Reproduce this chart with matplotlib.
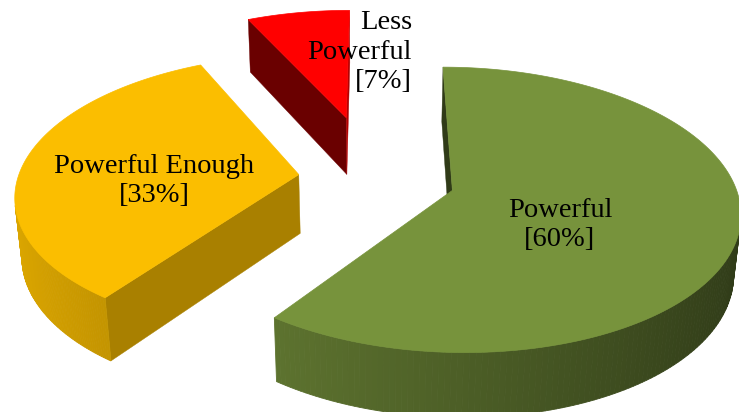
import numpy as np
import matplotlib
matplotlib.use("Agg")
import matplotlib.pyplot as plt
from matplotlib.patches import Polygon
from matplotlib.colors import to_rgb

# ---- data ----
categories = ["Powerful", "Powerful Enough", "Less Powerful"]
display_names = ["Powerful", "Powerful Enough", "Less\nPowerful"]
values = [60, 33, 7]

# ---- style ----
colors = ["#77933C", "#FBBE00", "#FF0000"]
explode = [0.29, 0.27, 0.48]
label_pos = [(560, 225), (154, 181), (412, 52)]
label_ha = ["center", "center", "right"]

W, H_PX = 739, 412
ELEV = np.radians(31.0)
DIST = 6.5
FOC = 1790.0
DEPTH = 0.245
CX, CY = 374.0, 237.0
CAM = np.array([0.0, -DIST * np.cos(ELEV), DIST * np.sin(ELEV)])


def proj(X, Y, Z):
    X = np.asarray(X, float); Y = np.asarray(Y, float); Z = np.asarray(Z, float)
    w = DIST + Y * np.cos(ELEV) - Z * np.sin(ELEV)
    u = CX + FOC * X / w
    v = CY - FOC * (Y * np.sin(ELEV) + Z * np.cos(ELEV)) / w
    return np.column_stack([np.atleast_1d(u), np.atleast_1d(v)])


def shade(color, f):
    r, g, b = to_rgb(color)
    f = max(0.0, min(1.0, f))
    return (r * f, g * f, b * f)


fig = plt.figure(figsize=(W / 100, H_PX / 100), dpi=100)
fig.patch.set_facecolor("white")
ax = fig.add_axes([0, 0, 1, 1])
ax.set_xlim(0, W)
ax.set_ylim(H_PX, 0)
ax.axis("off")

total = float(sum(values))
cum = np.concatenate([[0], np.cumsum(values)]) / total
slices = []
for i in range(len(values)):
    hi = 90.0 - 360.0 * cum[i]
    lo = 90.0 - 360.0 * cum[i + 1]
    mid = np.radians((lo + hi) / 2)
    ox, oy = explode[i] * np.cos(mid), explode[i] * np.sin(mid)
    slices.append((i, lo, hi, ox, oy))

# painter's order: farthest (largest Y offset) first
slices.sort(key=lambda s: -s[4])

for i, lo, hi, ox, oy in slices:
    col = colors[i]
    ts = np.radians(np.linspace(lo, hi, 200))
    rx = ox + np.cos(ts)
    ry = oy + np.sin(ts)
    top = proj(rx, ry, np.full_like(ts, DEPTH))
    bot = proj(rx, ry, np.zeros_like(ts))
    vt = proj(ox, oy, DEPTH)[0]
    vb = proj(ox, oy, 0.0)[0]

    # radial faces
    for ang, nang in ((hi, hi + 90), (lo, lo - 90)):
        a = np.radians(ang); na = np.radians(nang)
        n = np.array([np.cos(na), np.sin(na), 0.0])
        p = np.array([ox, oy, DEPTH / 2])
        if n @ (CAM - p) > 0:
            rt = proj(ox + np.cos(a), oy + np.sin(a), DEPTH)[0]
            rb = proj(ox + np.cos(a), oy + np.sin(a), 0.0)[0]
            f = 0.55 + 0.15 * np.cos(na)
            c = shade(col, f)
            ax.add_patch(Polygon([vt, rt, rb, vb], closed=True, facecolor=c,
                                 edgecolor=c, linewidth=0.3, zorder=1))

    # outer curved side
    for k in range(len(ts) - 1):
        tm = 0.5 * (ts[k] + ts[k + 1])
        n = np.array([np.cos(tm), np.sin(tm), 0.0])
        p = np.array([ox + np.cos(tm), oy + np.sin(tm), DEPTH / 2])
        if n @ (CAM - p) > 0:
            f = 0.64 - 0.24 * np.cos(tm)
            c = shade(col, f)
            ax.add_patch(Polygon([top[k], top[k + 1], bot[k + 1], bot[k]], closed=True,
                                 facecolor=c, edgecolor=c, linewidth=0.6, zorder=1))

    # top face
    poly = np.vstack([vt[None, :], top])
    ax.add_patch(Polygon(poly, closed=True, facecolor=col, edgecolor=col,
                         linewidth=0.5, zorder=2))

for i in range(len(values)):
    txt = f"{display_names[i]}\n[{values[i]}%]"
    x, y = label_pos[i]
    ax.text(x, y, txt, ha=label_ha[i], va="center", multialignment=label_ha[i],
            fontsize=20.5, family="Liberation Serif", linespacing=1.22,
            color="black", zorder=5)

fig.savefig("out.png", dpi=100, facecolor="white")
